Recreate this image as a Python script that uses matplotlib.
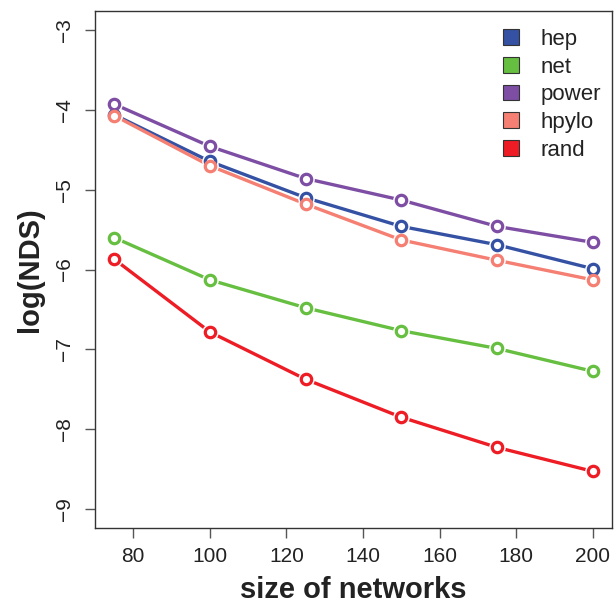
import matplotlib
matplotlib.use("Agg")
import matplotlib.pyplot as plt
from matplotlib.patches import Patch

plt.rcParams['font.family'] = ['Liberation Sans', 'DejaVu Sans']

sizes = [75, 100, 125, 150, 175, 200]
series_names = ["hep", "net", "power", "hpylo", "rand"]
hep = [-4.06, -4.645, -5.10, -5.46, -5.69, -5.99]
net = [-5.60, -6.13, -6.48, -6.767, -6.99, -7.276]
power = [-3.927, -4.457, -4.86, -5.13, -5.46, -5.66]
hpylo = [-4.07, -4.70, -5.18, -5.63, -5.885, -6.13]
rand = [-5.87, -6.783, -7.376, -7.852, -8.23, -8.53]
colors = ["#3451a3", "#66bf40", "#7d4ea3", "#f47f72", "#ee1c24"]
y_ticks = [-9, -8, -7, -6, -5, -4, -3]
x_ticks = [80, 100, 120, 140, 160, 180, 200]

fig = plt.figure(figsize=(6.14, 6.04), dpi=100)
ax = fig.add_axes([95 / 614, 1 - 528 / 604, (612 - 95) / 614, (528 - 11) / 604])

values = [hep, net, power, hpylo, rand]
for vals, col in zip(values, colors):
    ax.plot(sizes, vals, color=col, lw=2.4, solid_capstyle='butt', zorder=2)
    # white disc leaves a small gap between line and point (type "b" look)
    ax.plot(sizes, vals, ls='none', marker='o', ms=12, mfc='white', mec='none', zorder=3)
    ax.plot(sizes, vals, ls='none', marker='o', ms=7.5, mfc='white', mec=col, mew=2.3, zorder=4)

ax.set_xlim(70, 205)
ax.set_ylim(-9.24, -2.76)
ax.set_xticks(x_ticks)
ax.set_yticks(y_ticks)
ax.set_xticklabels([str(v) for v in x_ticks], fontsize=15, color='#222222')
ax.set_yticklabels(["\u2212%d" % abs(v) for v in y_ticks], fontsize=15,
                   rotation=90, va='center', color='#222222')
ax.tick_params(axis='both', direction='out', length=7, width=1, color='#555555')
ax.tick_params(axis='x', pad=7)
ax.tick_params(axis='y', pad=8)
for s in ax.spines.values():
    s.set_color('#333333')
    s.set_linewidth(1.0)

ax.set_xlabel("size of networks", fontsize=21, fontweight='bold', color='#222222', labelpad=7)
ax.set_ylabel("log(NDS)", fontsize=21, fontweight='bold', color='#222222', labelpad=8)

handles = [Patch(facecolor=c, edgecolor='#333333', lw=0.8) for c in colors]
leg = ax.legend(handles, series_names, loc='upper left', frameon=False, fontsize=16,
                handlelength=0.72, handleheight=0.72, handletextpad=0.95,
                labelspacing=0.3, borderaxespad=0.0, borderpad=0.0,
                bbox_to_anchor=((503 - 95) / 517, (528 - 29) / 517))
for t in leg.get_texts():
    t.set_color('#222222')

fig.savefig("out.png", dpi=100)
